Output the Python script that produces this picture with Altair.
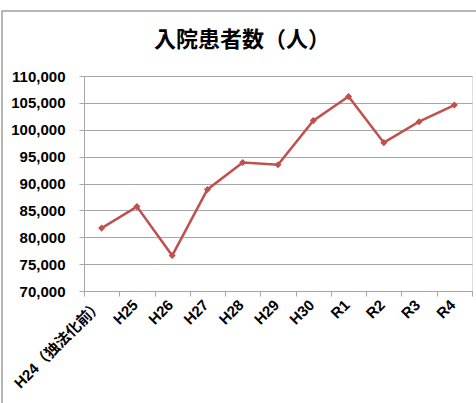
import altair as alt
import pandas as pd

categories = ["H24（独法化前）", "H25", "H26", "H27", "H28", "H29", "H30", "R1", "R2", "R3", "R4"]
patients = [81700, 85700, 76600, 88900, 93900, 93500, 101700, 106200, 97600, 101500, 104600]
y_ticks = [70000, 75000, 80000, 85000, 90000, 95000, 100000, 105000, 110000]

df = pd.DataFrame({"year": categories, "patients": patients})
frame_df = pd.DataFrame({"k": [0]})

FONT = "Liberation Sans, Noto Sans CJK JP"
RED = "#C0504D"
GRID = "#A6A6A6"

x_enc = alt.X("year:N", sort=categories, title=None,
              scale=alt.Scale(paddingInner=0, paddingOuter=0),
              axis=alt.Axis(labelAngle=-45, labelAlign="right", labelBaseline="middle",
                            labelFont=FONT, labelFontSize=15, labelFontWeight="bold",
                            labelColor="#000000", labelPadding=6, ticks=True, tickSize=5,
                            tickColor=GRID, domainColor=GRID, grid=False,
                            tickBand="extent", labelOffset=-2))
y_enc = alt.Y("patients:Q", title=None,
              scale=alt.Scale(domain=[70000, 110000], nice=False, zero=False),
              axis=alt.Axis(values=y_ticks, format=",.0f", labelFont=FONT, labelFontSize=15,
                            labelFontWeight="bold", labelColor="#000000", labelPadding=14,
                            ticks=True, tickSize=5, tickColor=GRID, domainColor=GRID,
                            gridColor=GRID, gridWidth=1))

base = alt.Chart(df).encode(x=x_enc, y=y_enc)
line = base.mark_line(color=RED, strokeWidth=2.5)
pts = base.mark_point(shape="diamond", filled=True, color=RED, size=50, opacity=1)

border = alt.Chart(frame_df).mark_rect(fill=None, stroke="#A0A0A0", strokeWidth=1.5, clip=False).encode(
    x=alt.value(-82), x2=alt.value(500), y=alt.value(-65), y2=alt.value(400))

chart = alt.layer(line, pts, border).properties(
    width=388, height=215,
    autosize=alt.AutoSizeParams(type="none"),
    padding={"left": 84, "top": 76, "right": 4, "bottom": 112},
    title=alt.TitleParams("入院患者数（人）", font="Noto Sans CJK JP", fontSize=22,
                          fontWeight="bold", color="#000000", anchor="middle",
                          frame="group", dx=-36, offset=-42),
).configure_view(stroke=None).configure(background="white")

chart.save("out.html", embed_options={"renderer": "svg", "actions": False})
